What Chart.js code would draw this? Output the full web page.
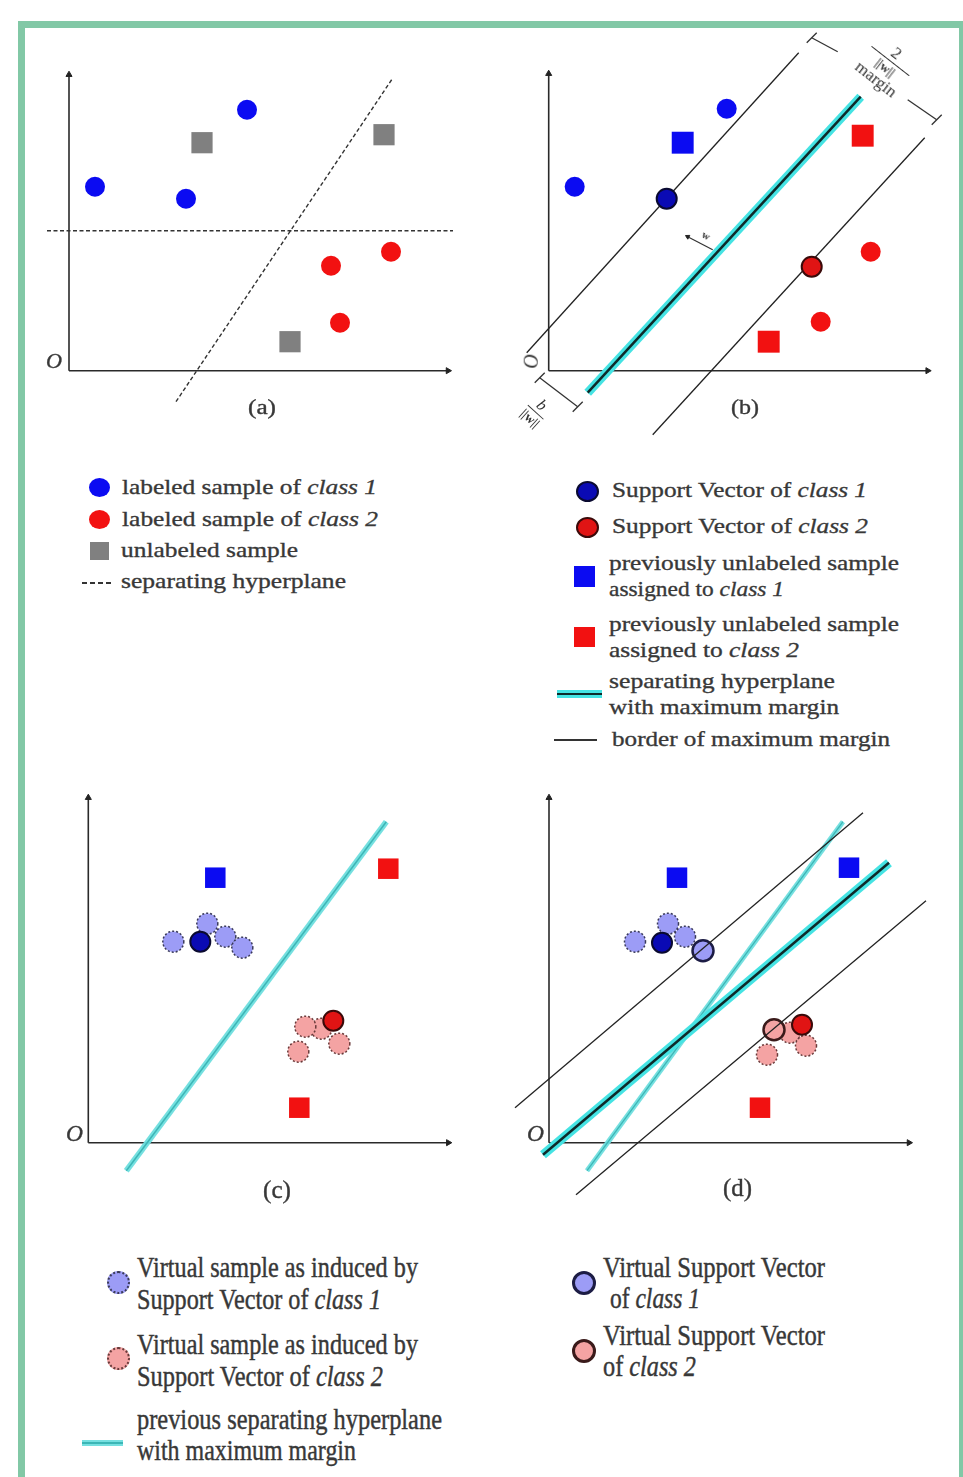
<!DOCTYPE html>
<html><head><meta charset="utf-8">
<script src="https://cdn.jsdelivr.net/npm/chart.js@4.4.1/dist/chart.umd.min.js"></script>
<style>
html,body{margin:0;padding:0;background:#fff;}
#page{position:relative;width:963px;height:1477px;overflow:hidden;background:#fff;}
#frame{position:absolute;left:18px;top:21px;width:948px;height:1470px;box-sizing:border-box;border:7px solid #82c8a6;border-bottom:none;}
canvas{position:absolute;}
.t{position:absolute;white-space:nowrap;font-family:"Liberation Serif","Times New Roman",serif;color:#383838;transform-origin:0 50%;line-height:1;z-index:5;-webkit-text-stroke:0.35px #383838;}
.sw{position:absolute;box-sizing:border-box;z-index:5;}
.rot{position:absolute;font-family:"Liberation Serif","Times New Roman",serif;color:#333;text-align:center;line-height:1.05;z-index:5;white-space:nowrap;}
</style></head><body><div id="page"><div id="frame"></div></div>
<script>
// ---------- DATA (units: axis-origin based) ----------
// Panel (a)
const aAxisX = [{x:0,y:0},{x:37.9,y:0}];
const aAxisY = [{x:0,y:0},{x:0,y:29.6}];
const aClass1 = [{x:2.6,y:18.4},{x:11.7,y:17.2},{x:17.8,y:26.1}];
const aClass2 = [{x:26.2,y:10.5},{x:32.2,y:11.9},{x:27.1,y:4.8}];
const aUnlabeled = [{x:13.3,y:22.8},{x:31.5,y:23.6},{x:22.1,y:2.9}];
const aHyperH = [{x:-2.2,y:14.0},{x:38.4,y:14.0}];
const aHyperS = [{x:10.7,y:-3.1},{x:32.4,y:29.3}];
// Panel (b)
const bAxisX = [{x:0,y:0},{x:37.9,y:0}];
const bAxisY = [{x:0,y:0},{x:0,y:29.7}];
const bClass1 = [{x:2.6,y:18.4},{x:17.8,y:26.2}];
const bSV1 = [{x:11.8,y:17.2}];
const bAssigned1 = [{x:13.4,y:22.8}];
const bClass2 = [{x:32.2,y:11.9},{x:27.2,y:4.9}];
const bSV2 = [{x:26.3,y:10.4}];
const bAssigned2 = [{x:31.4,y:23.5},{x:22.0,y:2.9}];
const bHyper = [{x:3.9,y:-2.2},{x:31.2,y:27.4}];
const bBorder1 = [{x:-2.2,y:1.8},{x:25.0,y:31.8}];
const bBorder2 = [{x:10.4,y:-6.4},{x:37.6,y:23.3}];
const bMarginL = [{x:26.3,y:33.3},{x:28.9,y:31.9}];
const bMarginR = [{x:35.9,y:27.1},{x:38.8,y:25.1}];
const bMarginTickL = [{x:25.8,y:32.8},{x:26.8,y:33.8}];
const bMarginTickR = [{x:38.3,y:24.6},{x:39.3,y:25.6}];
const bOffset = [{x:-0.9,y:-0.7},{x:2.9,y:-3.6}];
const bOffsetTick1 = [{x:-1.4,y:-1.2},{x:-0.4,y:-0.2}];
const bOffsetTick2 = [{x:2.4,y:-4.1},{x:3.4,y:-3.1}];
const bNormal = [{x:16.4,y:12.1},{x:13.9,y:13.4}];
const bNormalHead = [{x:13.9,y:13.4}];
// Panel (c)
const cAxisX = [{x:0,y:0},{x:36.0,y:0}];
const cAxisY = [{x:0,y:0},{x:0,y:34.5}];
const cAssigned1 = [{x:12.7,y:26.5}];
const cAssigned2 = [{x:30.0,y:27.4},{x:21.1,y:3.5}];
const cSV1 = [{x:11.2,y:20.1}];
const cVirtual1 = [{x:8.5,y:20.1},{x:11.9,y:21.9},{x:13.7,y:20.6},{x:15.4,y:19.5}];
const cSV2 = [{x:24.5,y:12.2}];
const cVirtual2 = [{x:23.3,y:11.4},{x:21.7,y:11.6},{x:25.1,y:9.9},{x:21.0,y:9.1}];
const cPrevHyper = [{x:3.8,y:-2.8},{x:29.8,y:32.1}];
// Panel (d)
const dAxisX = [{x:0,y:0},{x:36.0,y:0}];
const dAxisY = [{x:0,y:0},{x:0,y:34.5}];
const dAssigned1 = [{x:12.8,y:26.5},{x:30.0,y:27.5}];
const dAssigned2 = [{x:21.1,y:3.5}];
const dSV1 = [{x:11.3,y:20.0}];
const dVirtual1 = [{x:8.6,y:20.1},{x:11.9,y:21.9},{x:13.6,y:20.6}];
const dVSV1 = [{x:15.4,y:19.2}];
const dSV2 = [{x:25.3,y:11.8}];
const dVirtual2 = [{x:24.1,y:11.0},{x:25.7,y:9.7},{x:21.8,y:8.8}];
const dVSV2 = [{x:22.5,y:11.3}];
const dPrevHyper = [{x:3.8,y:-2.8},{x:29.4,y:32.1}];
const dHyper = [{x:-0.6,y:-1.2},{x:34.0,y:28.0}];
const dBorder1 = [{x:-3.4,y:3.5},{x:31.4,y:33.0}];
const dBorder2 = [{x:2.7,y:-5.2},{x:37.7,y:24.2}];

// ---------- styles ----------
const BLUE='#0b0bf2', RED='#f21111', GREY='#808080';
const SV1F='#0a0ab4', SV1B='#0a0a30', SV2F='#e01414', SV2B='#3a0a0a';
const V1F='#9c9cf6', V1B='#3a3a5a', V2F='#f4a3a3', V2B='#6a3a3a';
const CYAN='#45e3e3', CORE='#0e2a2a', PCYAN='rgba(110,222,222,0.95)', PCORE='#3cb6b6';

const page = document.getElementById('page');
const U = 10;

function dots(data, style, r, fill, border, bw, dash) {
  return {data, showLine:false, pointStyle:style, pointRadius:r, pointHoverRadius:r,
    pointBackgroundColor:fill, pointBorderColor:border||fill, pointBorderWidth:bw||0, pointDash:dash||null};
}
function seg(data, color, width, dash) {
  return {data, showLine:true, borderColor:color, borderWidth:width, borderDash:dash||[],
    pointRadius:0, pointHoverRadius:0, fill:false, tension:0};
}
function arrow(data, rot, r) {
  return {data, showLine:false, pointStyle:'triangle', pointRadius:r||3.5, pointHoverRadius:r||3.5,
    pointRotation:rot, pointBackgroundColor:'#222', pointBorderColor:'#222', pointBorderWidth:1};
}
function axes(ax, ay) {
  return [seg(ax,'#2a2a2a',1.6), seg(ay,'#2a2a2a',1.6),
    arrow([ax[1]],90), arrow([ay[1]],0)];
}
const dashPlugin = {
  id:'dashPoints',
  beforeDatasetDraw(chart,args){ const ds=chart.data.datasets[args.index]; if(ds.pointDash){chart.ctx.save();chart.ctx.setLineDash(ds.pointDash);} },
  afterDatasetDraw(chart,args){ const ds=chart.data.datasets[args.index]; if(ds.pointDash){chart.ctx.restore();} }
};
function makePanel(left, top, w, h, ox, oy, datasets) {
  const c = document.createElement('canvas');
  c.width = w; c.height = h;
  c.style.left = left+'px'; c.style.top = top+'px';
  page.appendChild(c);
  datasets.forEach((d,i)=>{ d.order = -i; d.clip = false; });
  new Chart(c, {
    type:'scatter',
    data:{datasets},
    options:{
      responsive:false, animation:false, devicePixelRatio:1, events:[],
      layout:{padding:0, autoPadding:false},
      plugins:{legend:{display:false}, tooltip:{enabled:false}},
      scales:{
        x:{type:'linear', display:false, bounds:'data', min:(left-ox)/U, max:(left+w-ox)/U},
        y:{type:'linear', display:false, bounds:'data', min:(oy-top-h)/U, max:(oy-top)/U}
      }
    },
    plugins:[dashPlugin]
  });
}

// Panel (a)
makePanel(28, 36, 444, 404, 69, 370.7, [
  ...axes(aAxisX, aAxisY),
  seg(aHyperH,'#333',1.4,[4,2.5]),
  seg(aHyperS,'#333',1.4,[4,2.5]),
  dots(aClass1,'circle',10,BLUE),
  dots(aClass2,'circle',10,RED),
  dots(aUnlabeled,'rect',15,GREY)
]);
// Panel (b)
makePanel(500, 28, 455, 420, 548.7, 370.7, [
  ...axes(bAxisX, bAxisY),
  seg(bBorder1,'#222',1.3), seg(bBorder2,'#222',1.3),
  seg(bHyper,CYAN,9), seg(bHyper,CORE,2.5),
  seg(bMarginL,'#333',1.3), seg(bMarginR,'#333',1.3),
  seg(bMarginTickL,'#333',1.3), seg(bMarginTickR,'#333',1.3),
  seg(bOffset,'#333',1.3), seg(bOffsetTick1,'#333',1.3), seg(bOffsetTick2,'#333',1.3),
  seg(bNormal,'#333',1.2), arrow(bNormalHead,-62,2.5),
  dots(bClass1,'circle',10,BLUE),
  dots(bAssigned1,'rect',15.5,BLUE),
  dots(bSV1,'circle',10,SV1F,SV1B,2),
  dots(bClass2,'circle',10,RED),
  dots(bAssigned2,'rect',15.5,RED),
  dots(bSV2,'circle',10,SV2F,SV2B,2)
]);
// Panel (c)
makePanel(40, 780, 440, 420, 88.3, 1142.7, [
  ...axes(cAxisX, cAxisY),
  seg(cPrevHyper,PCYAN,6), seg(cPrevHyper,PCORE,1.5),
  dots(cVirtual1,'circle',10.5,V1F,V1B,1.5,[2,2]),
  dots(cSV1,'circle',10,SV1F,SV1B,2),
  dots(cVirtual2,'circle',10.5,V2F,V2B,1.5,[2,2]),
  dots(cSV2,'circle',10,SV2F,SV2B,2),
  dots(cAssigned1,'rect',14.5,BLUE),
  dots(cAssigned2,'rect',14.5,RED)
]);
// Panel (d)
makePanel(500, 780, 450, 430, 549, 1142.7, [
  ...axes(dAxisX, dAxisY),
  dots(dVirtual1,'circle',10.5,V1F,V1B,1.5,[2,2]),
  dots(dSV1,'circle',10,SV1F,SV1B,2),
  dots(dVSV1,'circle',10.5,V1F,'#1c1c44',2.5),
  dots(dVirtual2,'circle',10.5,V2F,V2B,1.5,[2,2]),
  dots(dVSV2,'circle',10.5,V2F,'#3a1a1a',2.5),
  dots(dSV2,'circle',10,SV2F,SV2B,2),
  dots(dAssigned1,'rect',14.5,BLUE),
  dots(dAssigned2,'rect',14.5,RED),
  seg(dPrevHyper,PCYAN,5), seg(dPrevHyper,PCORE,1.3),
  seg(dHyper,CYAN,9), seg(dHyper,CORE,2.5),
  seg(dBorder1,'#222',1.3), seg(dBorder2,'#222',1.3)
]);

// ---------- text ----------
function txt(x, cy, w, fs, html, sy) {
  const d = document.createElement('div');
  d.className='t'; d.style.fontSize=fs+'px'; d.innerHTML=html;
  d.style.left=x+'px'; d.style.top=(cy-fs*0.55)+'px';
  page.appendChild(d);
  const nat=d.getBoundingClientRect().width;
  d.style.transform='scale('+(w/nat)+','+(sy||1)+')';
}
function cen(cx, cy, w, fs, html, sy) {
  const d = document.createElement('div');
  d.className='t'; d.style.fontSize=fs+'px'; d.innerHTML=html;
  page.appendChild(d);
  const nat=d.getBoundingClientRect().width;
  d.style.left=(cx-w/2)+'px'; d.style.top=(cy-fs*0.55)+'px';
  d.style.transform='scale('+(w/nat)+','+(sy||1)+')';
}
function sw(x, y, w, h, css) {
  const d=document.createElement('div'); d.className='sw';
  d.style.left=(x-w/2)+'px'; d.style.top=(y-h/2)+'px'; d.style.width=w+'px'; d.style.height=h+'px';
  d.style.cssText+=css; page.appendChild(d); return d;
}
function rot(cx, cy, deg, html, css) {
  const d=document.createElement('div'); d.className='rot'; d.innerHTML=html;
  d.style.cssText+=css||''; page.appendChild(d);
  const r=d.getBoundingClientRect();
  d.style.left=(cx-r.width/2)+'px'; d.style.top=(cy-r.height/2)+'px';
  d.style.transform='rotate('+deg+'deg)';
}

// axis origin labels and sub-captions
cen(54, 363, 16, 21, '<i>O</i>');
rot(531, 361, -90, '<i>O</i>', 'font-size:20px;');
cen(74, 1135, 17, 23, '<i>O</i>');
cen(535, 1135, 17, 23, '<i>O</i>');
cen(262, 408, 28, 20, '(a)');
cen(745, 408, 28, 20, '(b)');
cen(277, 1191, 28, 22, '(c)', 1.1);
cen(737, 1189, 29, 22, '(d)', 1.1);

// panel (b) annotations
rot(886, 67, 38, '<div style="font-size:17px">2</div><div style="border-top:1.3px solid #333;font-size:13px;font-weight:bold;padding-top:1px">||w||</div><div style="font-size:17px">margin</div>');
rot(536, 411, 42, '<div style="font-size:16px"><i>b</i></div><div style="border-top:1.3px solid #333;font-size:13px;font-weight:bold;padding-top:1px">||w||</div>');
rot(706, 236, 28, '<b>w</b>', 'font-size:11px;');

// legend (a)
sw(99,487,21,19,'border-radius:50%;background:'+BLUE+';');
sw(99,519,21,19,'border-radius:50%;background:'+RED+';');
sw(99,551,19,18,'background:'+GREY+';');
sw(96,583,29,1.5,'background:repeating-linear-gradient(90deg,#333 0 5px,transparent 5px 8px);');
txt(122,488,255,22,'labeled sample of <i>class 1</i>');
txt(122,520,256,22,'labeled sample of <i>class 2</i>');
txt(121,551,177,22,'unlabeled sample');
txt(121,582,225,22,'separating hyperplane');

// legend (b)
sw(587,491,23,21,'border-radius:50%;background:'+SV1F+';border:2px solid '+SV1B+';');
sw(587,527,23,21,'border-radius:50%;background:'+SV2F+';border:2px solid '+SV2B+';');
sw(584,576,21,21,'background:'+BLUE+';');
sw(584,637,21,20,'background:'+RED+';');
sw(579,694,45,8,'background:'+CYAN+';');
sw(579,694,45,2.5,'background:'+CORE+';');
sw(575,740,43,1.5,'background:#333;');
txt(612,491,255,22,'Support Vector of <i>class 1</i>');
txt(612,527,256,22,'Support Vector of <i>class 2</i>');
txt(609,564,290,22,'previously unlabeled sample');
txt(609,590,175,22,'assigned to <i>class 1</i>');
txt(609,625,290,22,'previously unlabeled sample');
txt(609,651,190,22,'assigned to <i>class 2</i>');
txt(609,682,226,22,'separating hyperplane');
txt(609,708,230,22,'with maximum margin');
txt(612,740,278,22,'border of maximum margin');

// legend (c)
sw(118,1282,23,23,'border-radius:50%;background:'+V1F+';border:2px dotted '+V1B+';');
sw(118,1358,23,23,'border-radius:50%;background:'+V2F+';border:2px dotted '+V2B+';');
sw(102,1443,41,6,'background:'+PCYAN+';');
sw(102,1443,41,1.5,'background:'+PCORE+';');
txt(137,1268,281,24,'Virtual sample as induced by',1.2);
txt(137,1300,244,24,'Support Vector of <i>class 1</i>',1.2);
txt(137,1345,281,24,'Virtual sample as induced by',1.2);
txt(137,1377,246,24,'Support Vector of <i>class 2</i>',1.2);
txt(137,1420,305,24,'previous separating hyperplane',1.2);
txt(137,1451,219,24,'with maximum margin',1.2);

// legend (d)
sw(584,1283,24,24,'border-radius:50%;background:'+V1F+';border:3px solid #1c1c44;');
sw(584,1351,24,24,'border-radius:50%;background:'+V2F+';border:3px solid #3a1a1a;');
txt(603,1268,222,24,'Virtual Support Vector',1.2);
txt(610,1299,90,24,'of <i>class 1</i>',1.2);
txt(603,1336,222,24,'Virtual Support Vector',1.2);
txt(603,1367,93,24,'of <i>class 2</i>',1.2);
</script>
</body></html>
